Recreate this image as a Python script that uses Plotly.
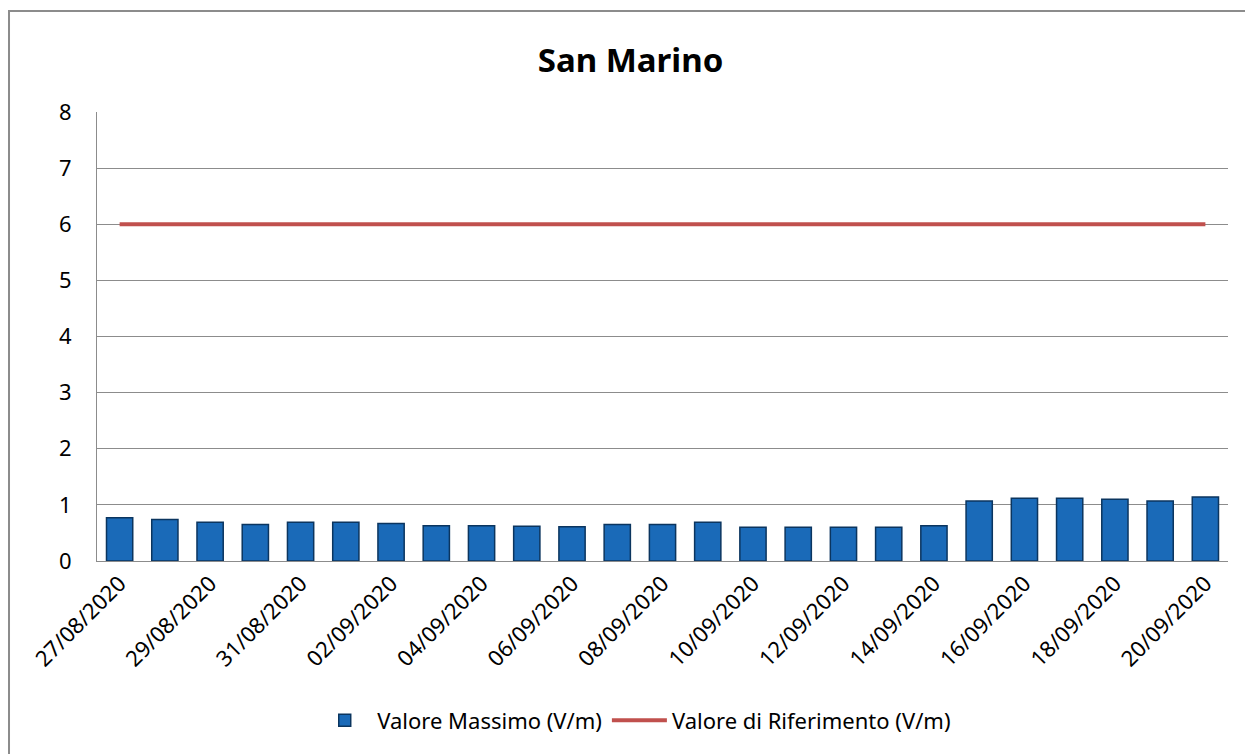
import plotly.graph_objects as go

# daily maxima, 27/08/2020 .. 20/09/2020
dates = [
    "27/08/2020", "28/08/2020", "29/08/2020", "30/08/2020", "31/08/2020",
    "01/09/2020", "02/09/2020", "03/09/2020", "04/09/2020", "05/09/2020",
    "06/09/2020", "07/09/2020", "08/09/2020", "09/09/2020", "10/09/2020",
    "11/09/2020", "12/09/2020", "13/09/2020", "14/09/2020", "15/09/2020",
    "16/09/2020", "17/09/2020", "18/09/2020", "19/09/2020", "20/09/2020",
]
valore_massimo = [
    0.77, 0.74, 0.69, 0.65, 0.69, 0.69, 0.67, 0.63, 0.63, 0.62,
    0.61, 0.65, 0.65, 0.69, 0.60, 0.60, 0.60, 0.60, 0.63, 1.07,
    1.12, 1.12, 1.10, 1.07, 1.14,
]
valore_riferimento = [6] * len(dates)
tick_labels = dates[::2]
y_ticks = [0, 1, 2, 3, 4, 5, 6, 7, 8]

FONT = "Noto Sans"

fig = go.Figure()
fig.add_trace(go.Bar(
    x=dates,
    y=valore_massimo,
    name="Valore Massimo (V/m)",
    width=0.58,
    marker=dict(color="#1a6ab8", line=dict(color="#0b355f", width=1.5)),
))
fig.add_trace(go.Scatter(
    x=dates,
    y=valore_riferimento,
    name="Valore di Riferimento (V/m)",
    mode="lines",
    line=dict(color="#c0504d", width=4),
))

# the page body has an 8px margin, so the figure is a bit smaller than the window
fig.update_layout(
    width=1245,
    height=746,
    paper_bgcolor="white",
    plot_bgcolor="white",
    margin=dict(l=89, r=25, t=104, b=193),
    font=dict(family=FONT, size=20, color="#000000"),
    title=dict(
        text="<b>San Marino</b>",
        x=0.5,
        xanchor="center",
        y=0.93,
        yanchor="middle",
        font=dict(family=FONT, size=33, color="#000000"),
    ),
    showlegend=True,
    legend=dict(
        orientation="h",
        x=0.475,
        xanchor="center",
        y=-0.355,
        yanchor="middle",
        font=dict(family=FONT, size=22),
        itemwidth=55,
        traceorder="normal",
    ),
    xaxis=dict(
        type="category",
        tickmode="array",
        tickvals=tick_labels,
        ticktext=tick_labels,
        tickangle=-45,
        tickfont=dict(family=FONT, size=22),
        showgrid=False,
        showline=True,
        linecolor="#8c8c8c",
        linewidth=1,
        ticks="",
        range=[-0.5, len(dates) - 0.5],
    ),
    yaxis=dict(
        range=[0, 8],
        tickvals=y_ticks,
        tickfont=dict(family=FONT, size=22),
        showgrid=True,
        gridcolor="#8c8c8c",
        gridwidth=1,
        showline=True,
        linecolor="#8c8c8c",
        linewidth=1,
        zeroline=False,
        ticks="",
        ticklabelstandoff=20,
    ),
    shapes=[
        dict(
            type="rect",
            xref="paper",
            yref="paper",
            x0=-0.0778,
            x1=1.0195,
            y0=-0.5,
            y1=1.225,
            line=dict(color="#8c8c8c", width=2),
            fillcolor="rgba(0,0,0,0)",
            layer="below",
        )
    ],
)

fig.write_html("out.html")
